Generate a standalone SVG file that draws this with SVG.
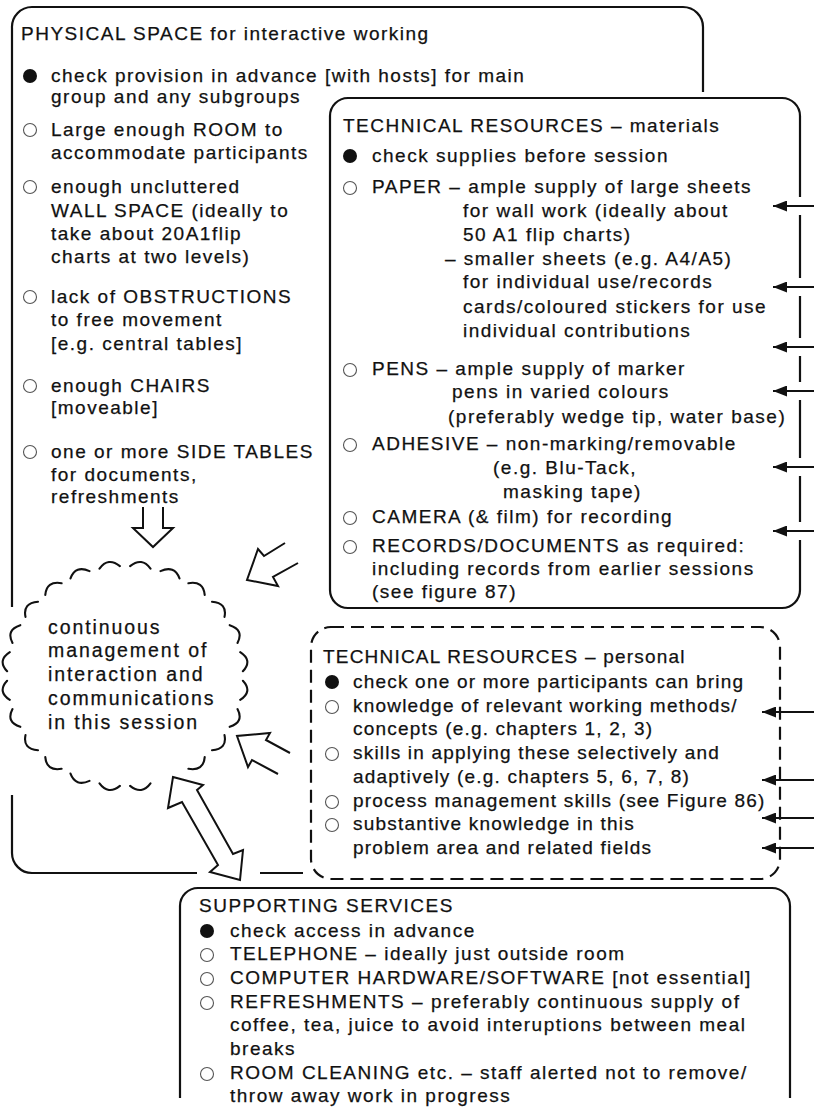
<svg xmlns="http://www.w3.org/2000/svg" width="814" height="1111" viewBox="0 0 814 1111">
<style>
.t{font-family:"Liberation Sans",Arial,sans-serif;font-size:19px;letter-spacing:1.5px;fill:#111;stroke:#111;stroke-width:0.25}
.tp{letter-spacing:1.2px}
.ct{font-family:"Liberation Sans",Arial,sans-serif;font-size:19.5px;letter-spacing:1.9px;fill:#111;stroke:#111;stroke-width:0.25}
.box{fill:none;stroke:#111;stroke-width:2.2}
.dash{stroke-dasharray:13 7}
.bf{fill:#111}
.bh{fill:#fff;stroke:#555;stroke-width:1.1}
.conn{fill:none;stroke:#111;stroke-width:2.2}
.hollow{fill:#fff;stroke:#111;stroke-width:2;stroke-linejoin:miter}
.cloud{fill:none;stroke:#111;stroke-width:2.1;stroke-linecap:round}
</style>
<defs>
<marker id="ah" markerUnits="userSpaceOnUse" viewBox="0 0 14 11" refX="14" refY="5.5" markerWidth="14" markerHeight="11" orient="auto">
<path d="M0,0 L14,5.5 L0,11 z" fill="#111"/>
</marker>
</defs>
<rect width="814" height="1111" fill="#fff"/>

<g id="physical-space">
<path class="box" d="M12,607 V28 A20,20 0 0 1 32,7 H683 A20,20 0 0 1 703,27 V92"/>
<path class="box" d="M12,795 V853 A20,20 0 0 0 32,873 H197 M260,873 H303"/>
<text class="t" x="21" y="40">PHYSICAL SPACE for interactive working</text>
<circle class="bf" cx="30" cy="76" r="7"/>
<text class="t" x="51" y="82">check provision in advance [with hosts] for main</text>
<text class="t" x="51" y="103">group and any subgroups</text>
<circle class="bh" cx="30" cy="130" r="6.5"/>
<text class="t" x="51" y="136">Large enough ROOM to</text>
<text class="t" x="51" y="159">accommodate participants</text>
<circle class="bh" cx="30" cy="187" r="6.5"/>
<text class="t" x="51" y="193">enough uncluttered</text>
<text class="t" x="51" y="217">WALL SPACE (ideally to</text>
<text class="t" x="51" y="240">take about 20A1flip</text>
<text class="t" x="51" y="263">charts at two levels)</text>
<circle class="bh" cx="30" cy="297" r="6.5"/>
<text class="t" x="51" y="303">lack of OBSTRUCTIONS</text>
<text class="t" x="51" y="326">to free movement</text>
<text class="t" x="51" y="350">[e.g. central tables]</text>
<circle class="bh" cx="30" cy="386" r="6.5"/>
<text class="t" x="51" y="392">enough CHAIRS</text>
<text class="t" x="51" y="414">[moveable]</text>
<circle class="bh" cx="30" cy="452" r="6.5"/>
<text class="t" x="51" y="458">one or more SIDE TABLES</text>
<text class="t" x="51" y="481">for documents,</text>
<text class="t" x="51" y="503">refreshments</text>
</g>

<g id="materials">
<path class="box" d="M348,98 H782 A18,18 0 0 1 800,116 V197 M800,215 V278 M800,296 V338 M800,356 V382 M800,400 V458 M800,476 V522 M800,540 V590 A18,18 0 0 1 782,608 H348 A18,18 0 0 1 330,590 V116 A18,18 0 0 1 348,98"/>
<text class="t" x="343" y="132">TECHNICAL RESOURCES – materials</text>
<circle class="bf" cx="350" cy="156" r="7"/>
<text class="t" x="372" y="162">check supplies before session</text>
<circle class="bh" cx="350" cy="188" r="6.5"/>
<text class="t" x="372" y="193">PAPER – ample supply of large sheets</text>
<text class="t" x="463" y="217">for wall work (ideally about</text>
<text class="t" x="463" y="241">50 A1 flip charts)</text>
<text class="t" x="445" y="265">– smaller sheets (e.g. A4/A5)</text>
<text class="t" x="463" y="288">for individual use/records</text>
<text class="t" x="463" y="313">cards/coloured stickers for use</text>
<text class="t" x="463" y="337">individual contributions</text>
<circle class="bh" cx="350" cy="370" r="6.5"/>
<text class="t" x="372" y="375">PENS – ample supply of marker</text>
<text class="t" x="452" y="398">pens in varied colours</text>
<text class="t" x="448" y="423">(preferably wedge tip, water base)</text>
<circle class="bh" cx="350" cy="445" r="6.5"/>
<text class="t" x="372" y="450">ADHESIVE – non-marking/removable</text>
<text class="t" x="493" y="474">(e.g. Blu-Tack,</text>
<text class="t" x="503" y="498">masking tape)</text>
<circle class="bh" cx="350" cy="518" r="6.5"/>
<text class="t" x="372" y="523">CAMERA (&amp; film) for recording</text>
<circle class="bh" cx="350" cy="547" r="6.5"/>
<text class="t" x="372" y="552">RECORDS/DOCUMENTS as required:</text>
<text class="t" x="372" y="575">including records from earlier sessions</text>
<text class="t" x="372" y="598">(see figure 87)</text>
</g>

<g id="cloud">
<path class="cloud" d="M242.9,680.8 Q253.0,691.7 240.2,699.8 M237.5,709.1 Q244.3,722.0 229.7,726.8 M224.5,735.1 Q227.4,749.2 212.0,750.3 M204.7,757.1 Q203.6,771.4 188.4,768.8 M150.5,783.4 Q141.9,795.3 130.1,785.9 M119.9,785.9 Q108.2,795.3 99.5,783.4 M89.5,780.9 Q75.6,787.1 70.5,773.6 M61.6,768.8 Q46.4,771.4 45.3,757.1 M38.0,750.3 Q22.6,749.2 25.5,735.1 M20.3,726.8 Q5.7,722.0 12.5,709.1 M9.8,699.8 Q-3.0,691.7 7.1,680.8 M7.1,671.2 Q-3.0,660.3 9.8,652.2 M12.5,642.9 Q5.7,630.0 20.3,625.2 M25.5,616.9 Q22.6,602.8 38.0,601.7 M45.3,594.9 Q46.4,580.6 61.6,583.2 M70.5,578.4 Q75.6,564.9 89.5,571.1 M99.5,568.6 Q108.2,556.7 119.9,566.1 M130.1,566.1 Q141.9,556.7 150.5,568.6 M160.5,571.1 Q174.4,564.9 179.5,578.4 M188.4,583.2 Q203.6,580.6 204.7,594.9 M212.0,601.7 Q227.4,602.8 224.5,616.9 M229.7,625.2 Q244.3,630.0 237.5,642.9 M240.2,652.2 Q253.0,660.3 242.9,671.2"/>
<text class="ct" x="48" y="634">continuous</text>
<text class="ct" x="48" y="657">management of</text>
<text class="ct" x="48" y="681">interaction and</text>
<text class="ct" x="48" y="705">communications</text>
<text class="ct" x="48" y="729">in this session</text>
</g>

<g id="personal">
<rect class="box dash" x="311" y="627" width="469" height="252" rx="20"/>
<text class="t tp" x="323" y="663">TECHNICAL RESOURCES – personal</text>
<circle class="bf" cx="332" cy="682" r="7"/>
<text class="t tp" x="353" y="688">check one or more participants can bring</text>
<circle class="bh" cx="332" cy="707" r="6.5"/>
<text class="t tp" x="353" y="712">knowledge of relevant working methods/</text>
<text class="t tp" x="353" y="735">concepts (e.g. chapters 1, 2, 3)</text>
<circle class="bh" cx="332" cy="754" r="6.5"/>
<text class="t tp" x="353" y="759">skills in applying these selectively and</text>
<text class="t tp" x="353" y="783">adaptively (e.g. chapters 5, 6, 7, 8)</text>
<circle class="bh" cx="332" cy="802" r="6.5"/>
<text class="t tp" x="353" y="807">process management skills (see Figure 86)</text>
<circle class="bh" cx="332" cy="825" r="6.5"/>
<text class="t tp" x="353" y="830">substantive knowledge in this</text>
<text class="t tp" x="353" y="854">problem area and related fields</text>
</g>

<g id="supporting">
<path class="box" d="M180,1098 V906 A18,18 0 0 1 198,888 H772 A18,18 0 0 1 790,906 V1098"/>
<text class="t" x="199" y="912">SUPPORTING SERVICES</text>
<circle class="bf" cx="207" cy="931" r="7"/>
<text class="t" x="230" y="937">check access in advance</text>
<circle class="bh" cx="207" cy="955" r="6.5"/>
<text class="t" x="230" y="960">TELEPHONE – ideally just outside room</text>
<circle class="bh" cx="207" cy="979" r="6.5"/>
<text class="t" x="230" y="984">COMPUTER HARDWARE/SOFTWARE [not essential]</text>
<circle class="bh" cx="207" cy="1003" r="6.5"/>
<text class="t" x="230" y="1008">REFRESHMENTS – preferably continuous supply of</text>
<text class="t" x="230" y="1031">coffee, tea, juice to avoid interuptions between meal</text>
<text class="t" x="230" y="1055">breaks</text>
<circle class="bh" cx="207" cy="1074" r="6.5"/>
<text class="t" x="230" y="1079">ROOM CLEANING etc. – staff alerted not to remove/</text>
<text class="t" x="230" y="1102">throw away work in progress</text>
</g>

<g id="connectors">
<path class="conn" marker-end="url(#ah)" d="M814,206 H773"/>
<path class="conn" marker-end="url(#ah)" d="M814,287 H773"/>
<path class="conn" marker-end="url(#ah)" d="M814,347 H773"/>
<path class="conn" marker-end="url(#ah)" d="M814,391 H773"/>
<path class="conn" marker-end="url(#ah)" d="M814,467 H773"/>
<path class="conn" marker-end="url(#ah)" d="M814,531 H773"/>
<path class="conn" marker-end="url(#ah)" d="M814,712 H762"/>
<path class="conn" marker-end="url(#ah)" d="M814,780 H762"/>
<path class="conn" marker-end="url(#ah)" d="M814,818 H762"/>
<path class="conn" marker-end="url(#ah)" d="M814,848 H762"/>
<path class="hollow" d="M143,507 V528 H133 L153,547 L173,528 H163 V507"/>
<path class="hollow" d="M285,543 L264,556 L258,549 L247,580 L278,586 L273,577 L298,563"/>
<path class="hollow" d="M290,753 L266,740 L270,733 L237,736 L248,767 L252,760 L278,774"/>
<path class="hollow" d="M173,777 L203,785 L197,790 L233,854 L243,850 L240,880 L210,872 L218,865 L182,802 L168,808 Z"/>
</g>
</svg>
